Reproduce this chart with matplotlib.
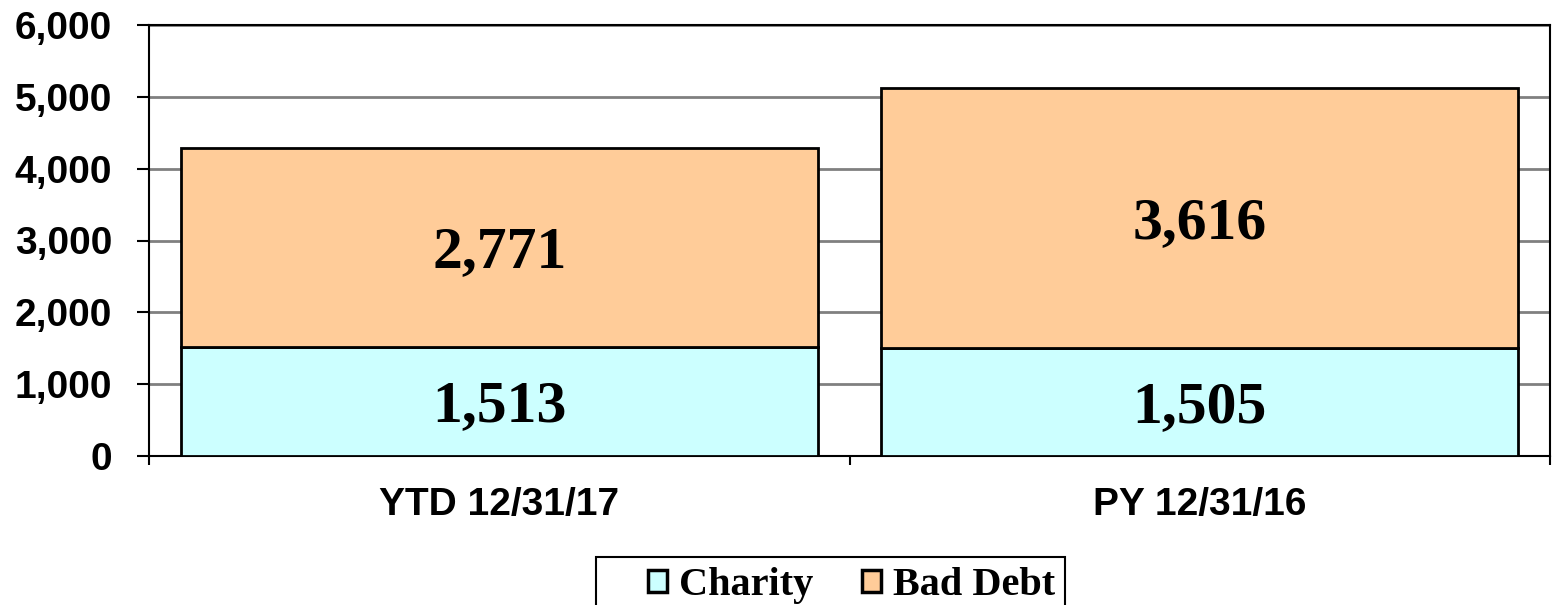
import matplotlib.pyplot as plt
from matplotlib.patches import Rectangle, Patch
import numpy as np

# data
categories = ['YTD 12/31/17', 'PY 12/31/16']
charity = [1513, 1505]
bad_debt = [2771, 3616]
series_names = ['Charity', 'Bad Debt']
colors = ['#CCFFFF', '#FFCC99']
yticks = [0, 1000, 2000, 3000, 4000, 5000, 6000]

W, H = 1552, 605
fig = plt.figure(figsize=(W / 100, H / 100), dpi=100)
ax = fig.add_axes([149 / W, 1 - 456 / H, 1401 / W, 431 / H])

x = np.arange(len(categories))
ax.bar(x, charity, width=0.91, color=colors[0], edgecolor='black',
       linewidth=2, zorder=3)
ax.bar(x, bad_debt, width=0.91, bottom=charity, color=colors[1],
       edgecolor='black', linewidth=2, zorder=3)

# value labels, digits centred in each segment
fs = 43
def seg_label(xc, yc, v):
    ax.annotate(f'{v:,}', (xc, yc), xytext=(0, -0.33 * fs), textcoords='offset points',
                ha='center', va='baseline', fontsize=fs, fontweight='bold',
                family='Liberation Serif', zorder=4)

for i in range(len(categories)):
    seg_label(x[i], charity[i] / 2, charity[i])
    seg_label(x[i], charity[i] + bad_debt[i] / 2, bad_debt[i])

ax.set_xlim(-0.5, 1.5)
ax.set_ylim(0, 6000)
ax.set_yticks(yticks)
ax.set_yticklabels([f'{v:,}' for v in yticks], fontsize=28, fontweight='bold',
                   family='Liberation Sans')
ax.yaxis.grid(True, color='#808080', linewidth=2, zorder=0)

# ticks at category boundaries, labels at centres
ax.set_xticks([-0.5, 0.5, 1.5])
ax.set_xticklabels([])
ax.set_xticks(x, minor=True)
ax.set_xticklabels(categories, minor=True, fontsize=28, fontweight='bold',
                   family='Liberation Sans')
ax.tick_params(axis='x', which='major', length=6.5, width=1.5, direction='out')
ax.tick_params(axis='x', which='minor', length=0, pad=22)
ax.tick_params(axis='y', length=8.6, width=1.5, direction='out', pad=18)

for s in ax.spines.values():
    s.set_linewidth(1.5)
    s.set_color('black')

# legend box drawn by hand, runs off the bottom like the original
fig.patches.append(Rectangle((596 / W, -0.05), (1065 - 596) / W, 0.05 + 1 - 557 / H,
                             transform=fig.transFigure, facecolor='white',
                             edgecolor='black', linewidth=1.5, zorder=1))
handles = [Patch(facecolor=c, edgecolor='black', linewidth=2.5) for c in colors]
leg = fig.legend(handles=handles, labels=series_names, loc='upper left',
                 bbox_to_anchor=(648 / W, 1 - 567 / H), ncol=2,
                 prop={'family': 'Liberation Serif', 'weight': 'bold', 'size': 29},
                 frameon=False, handlelength=0.47, handleheight=0.47,
                 handletextpad=0.3, columnspacing=1.2, borderpad=0,
                 borderaxespad=0)
leg.set_zorder(2)

fig.savefig('out.png', dpi=100)
